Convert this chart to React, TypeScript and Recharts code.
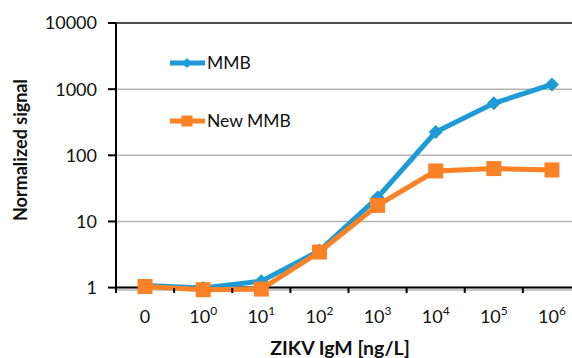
import {
  LineChart,
  Line,
  XAxis,
  YAxis,
  CartesianGrid,
  ReferenceLine,
  Legend,
} from "recharts";

// categories on the x axis, "10^k" gets drawn with a superscript
const categories = ["0", "10^0", "10^1", "10^2", "10^3", "10^4", "10^5", "10^6"];
const mmb = [1.08, 0.99, 1.25, 3.6, 23, 225, 610, 1180];
const newMmb = [1.04, 0.93, 0.95, 3.45, 17.5, 58, 63, 60];
const yTicks = [1, 10, 100, 1000, 10000];
const seriesNames = ["MMB", "New MMB"];

const data = categories.map((c, i) => ({ dose: c, mmb: mmb[i], newMmb: newMmb[i] }));

const BLUE = "#1e9ad6";
const ORANGE = "#fb8224";
const FONT = "Lato, 'DejaVu Sans', sans-serif";

function DiamondDot({ cx, cy, r, fill }: any) {
  if (cx == null || cy == null) return null;
  return (
    <path
      d={`M${cx},${cy - r}L${cx + r},${cy}L${cx},${cy + r}L${cx - r},${cy}Z`}
      fill={fill}
    />
  );
}

function SquareDot({ cx, cy, s, fill }: any) {
  if (cx == null || cy == null) return null;
  return <rect x={cx - s} y={cy - s} width={2 * s} height={2 * s} fill={fill} />;
}

function XTick(props: any) {
  const { x, y, payload } = props;
  const label: string = String(payload.value);
  const half = payload.offset ?? 0;
  const [base, exp] = label.split("^");
  return (
    <g>
      <line x1={x - half} x2={x - half} y1={y - 2} y2={y + 3} stroke="#000" strokeWidth={2} />
      <text x={x} y={y + 33} textAnchor="middle" fontFamily={FONT} fontSize={18} fill="#111">
        {base}
        {exp !== undefined && (
          <tspan dy={-8} fontSize={12}>
            {exp}
          </tspan>
        )}
      </text>
    </g>
  );
}

function LegendBox(props: any) {
  const items = props.payload || [];
  return (
    <svg width={150} height={90}>
      {items.map((item: any, i: number) => {
        const cy = i === 0 ? 18 : 76;
        return (
          <g key={item.value}>
            <line x1={5} x2={40} y1={cy} y2={cy} stroke={item.color} strokeWidth={5} />
            {item.type === "diamond" ? (
              <DiamondDot cx={22} cy={cy} r={5} fill={item.color} />
            ) : (
              <SquareDot cx={22} cy={cy} s={5.5} fill={item.color} />
            )}
            <text x={42} y={cy + 6} fontFamily={FONT} fontSize={17.5} fill="#111">
              {item.value}
            </text>
          </g>
        );
      })}
    </svg>
  );
}

export default function App() {
  return (
    <div
      style={{
        position: "fixed",
        left: 0,
        top: 0,
        width: 572,
        height: 358,
        overflow: "hidden",
        background: "#fff",
      }}
    >
      <LineChart
        width={600}
        height={358}
        data={data}
        margin={{ top: 23, right: 19, bottom: 0, left: 0 }}
      >
        <CartesianGrid vertical={false} stroke="#b5b5b5" strokeWidth={1.5} />
        <ReferenceLine y={10000} stroke="#222" strokeWidth={1.5} />
        <XAxis
          dataKey="dose"
          scale="band"
          height={68}
          axisLine={false}
          tickLine={false}
          tickSize={0}
          tickMargin={0}
          interval={0}
          tick={<XTick />}
          label={{
            content: () => (
              <text
                x={340}
                y={355}
                textAnchor="middle"
                fontFamily={FONT}
                fontSize={19.5}
                fontWeight="bold"
                fill="#111"
              >
                ZIKV IgM [ng/L]
              </text>
            ),
          }}
        />
        <YAxis
          scale="log"
          domain={[0.92, 10000]}
          ticks={yTicks}
          interval={0}
          width={116}
          tickSize={8}
          tickMargin={11}
          axisLine={{ stroke: "#000", strokeWidth: 2 }}
          tickLine={{ stroke: "#000", strokeWidth: 2 }}
          tick={{ fontSize: 18, fill: "#111", fontFamily: FONT }}
          label={{
            content: () => (
              <text
                transform="translate(27,150) rotate(-90)"
                textAnchor="middle"
                fontFamily={FONT}
                fontSize={18}
                fontWeight="bold"
                fill="#111"
              >
                Normalized signal
              </text>
            ),
          }}
        />
        <ReferenceLine y={1} stroke="#000" strokeWidth={2} />
        <Legend
          layout="vertical"
          align="center"
          verticalAlign="middle"
          content={<LegendBox />}
          wrapperStyle={{ left: 165, top: 45, width: 150, height: 90 }}
        />
        <Line
          type="linear"
          dataKey="mmb"
          name={seriesNames[0]}
          stroke={BLUE}
          strokeWidth={5}
          legendType="diamond"
          activeDot={false}
          isAnimationActive={false}
          dot={(p: any) => <DiamondDot key={p.index} cx={p.cx} cy={p.cy} r={7} fill={BLUE} />}
        />
        <Line
          type="linear"
          dataKey="newMmb"
          name={seriesNames[1]}
          stroke={ORANGE}
          strokeWidth={5}
          legendType="square"
          activeDot={false}
          isAnimationActive={false}
          dot={(p: any) => <SquareDot key={p.index} cx={p.cx} cy={p.cy} s={7.5} fill={ORANGE} />}
        />
      </LineChart>
    </div>
  );
}
